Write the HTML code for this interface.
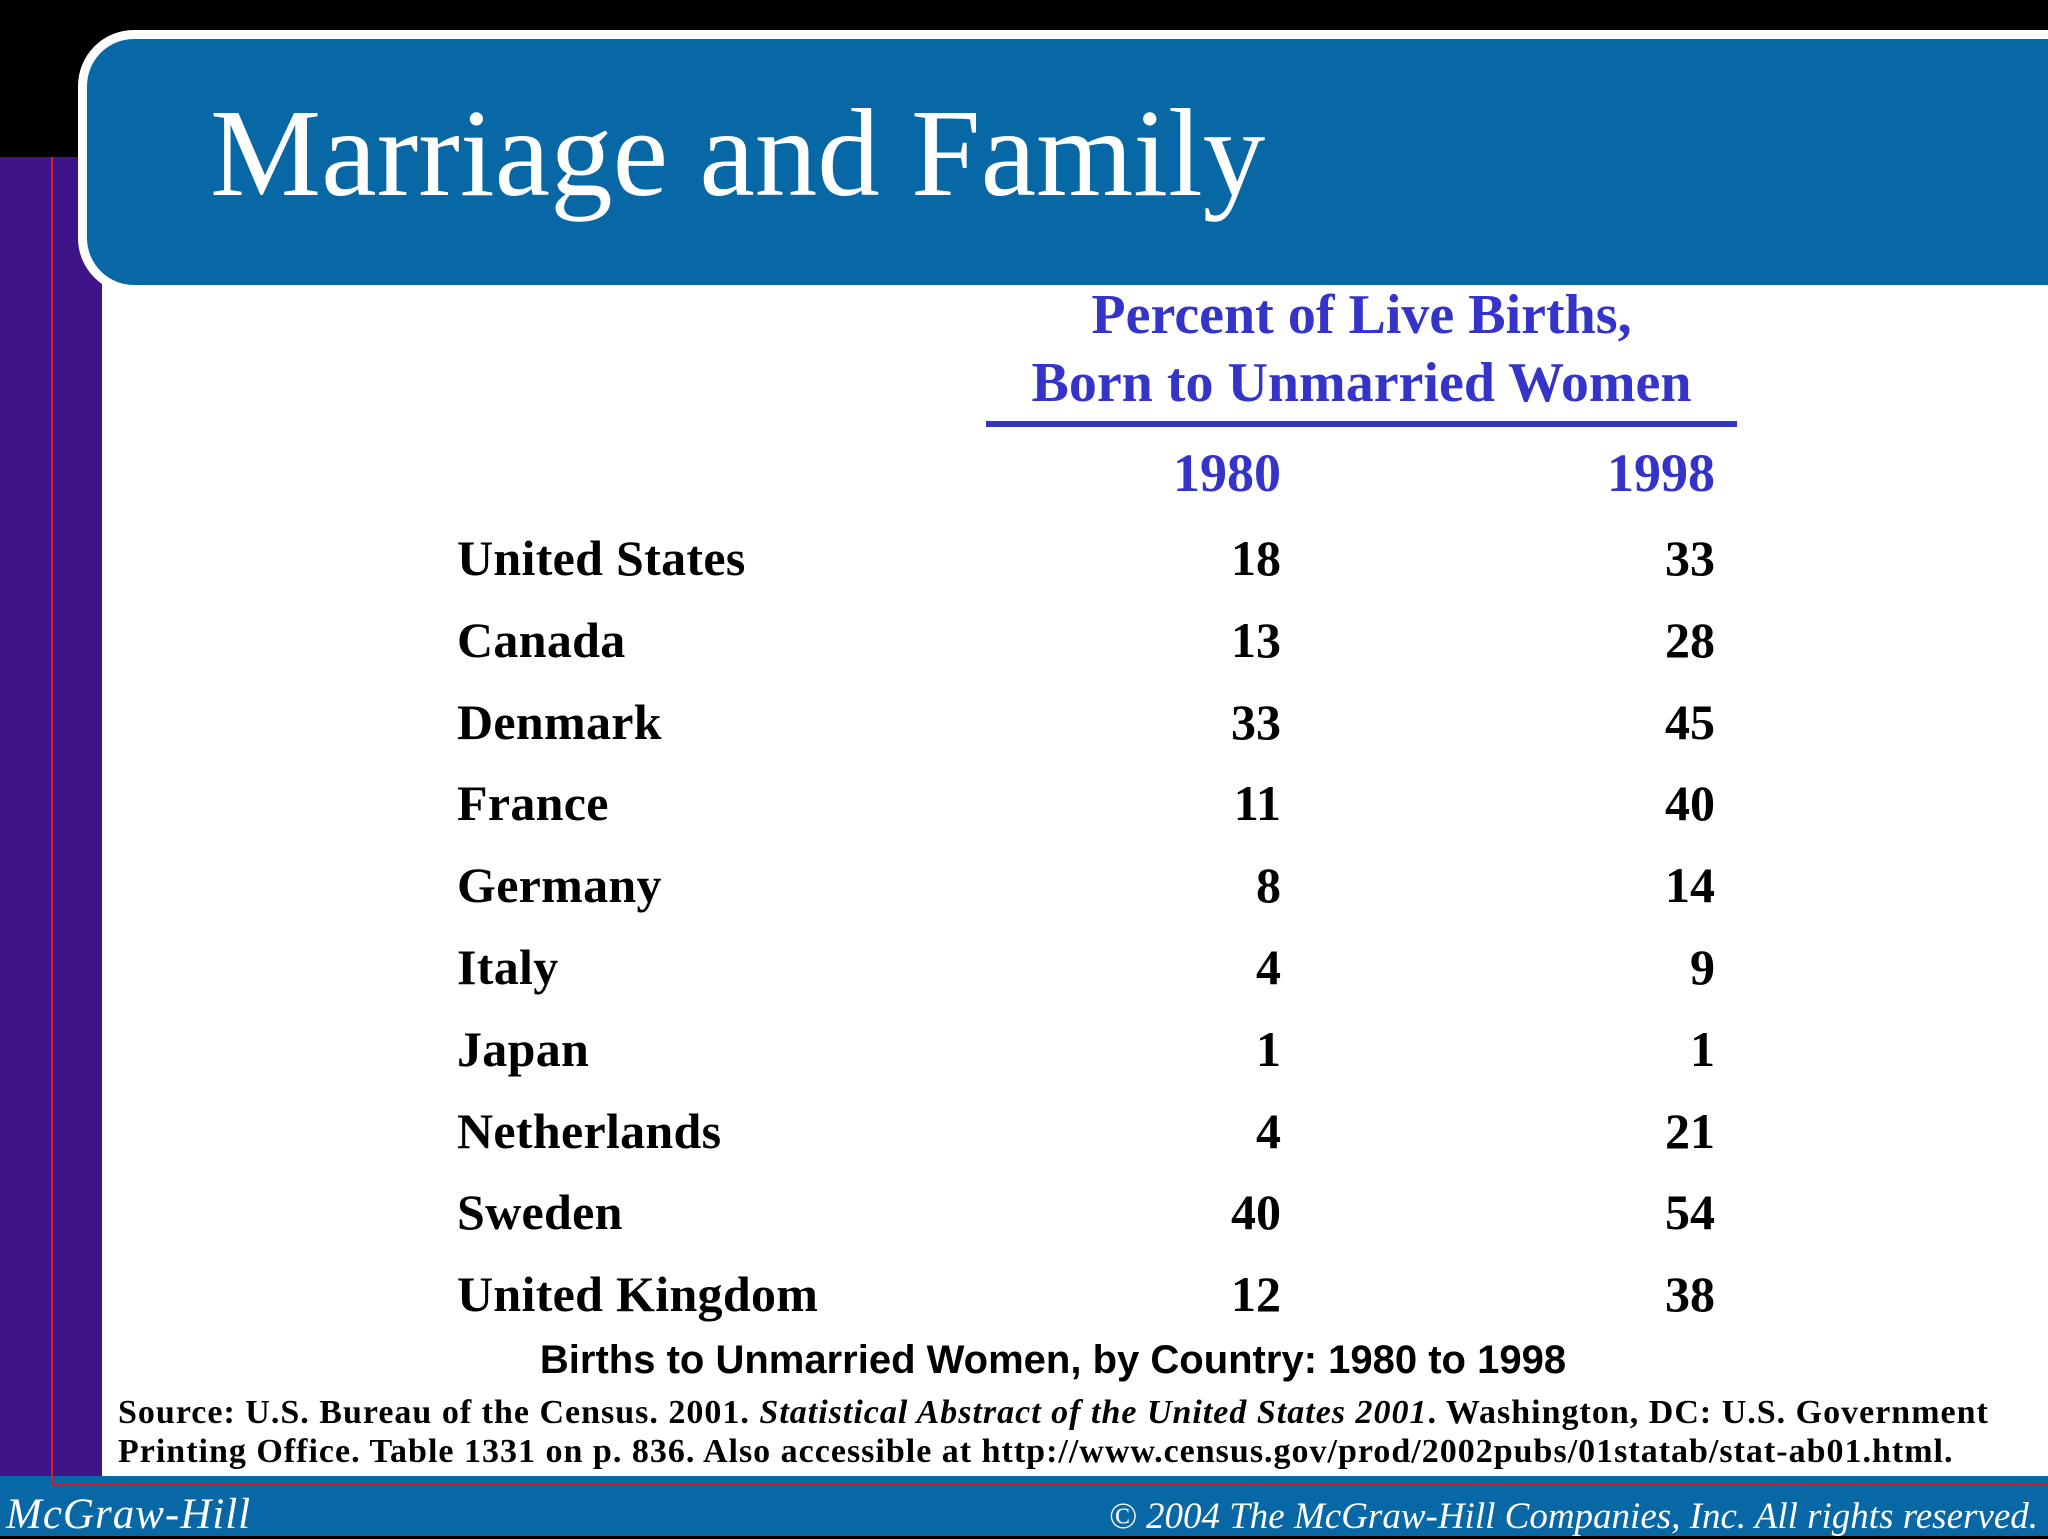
<!DOCTYPE html>
<html><head><meta charset="utf-8"><style>
body{margin:0;width:2048px;height:1536px;position:relative;overflow:hidden;background:#000;font-family:"Liberation Serif",serif}
div,span{position:absolute}
.c{left:457px;font-weight:bold;font-size:50px;color:#000;line-height:1;white-space:nowrap;letter-spacing:0.3px}
.n{font-weight:bold;font-size:50px;color:#000;text-align:right;width:200px;line-height:1}
</style></head><body>
<div style="left:0;top:157px;width:102px;height:1330px;background:#3e1488"></div>
<div style="left:102px;top:157px;width:1946px;height:1330px;background:#fff"></div>
<div style="left:0;top:1476px;width:2048px;height:60px;background:#0868a6"></div>
<div style="left:51px;top:157px;width:2000px;height:1327px;border-left:2px solid #d0202a;border-bottom:2px solid #d0202a"></div>
<div style="left:78px;top:30px;width:2050px;height:264px;background:#0868a6;border:9px solid #fff;border-radius:56px;box-sizing:border-box"></div>
<div style="left:210px;top:86px;font-size:125px;color:#fff;line-height:1.1;white-space:nowrap">Marriage and Family</div>
<div style="left:936px;top:281px;width:851px;text-align:center;font-weight:bold;font-size:56px;color:#3434c8;line-height:68px">Percent of Live Births,<br>Born to Unmarried Women</div>
<div style="left:986px;top:421px;width:751px;height:6px;background:#3434c8"></div>
<div class="n" style="left:1081px;top:446px;color:#3434c8;font-size:54px">1980</div>
<div class="n" style="left:1515px;top:446px;color:#3434c8;font-size:54px">1998</div>
<div id="rows"></div>
<div style="left:0;width:2106px;top:1338px;text-align:center;font-family:'Liberation Sans',sans-serif;font-weight:bold;font-size:40px;color:#000">Births to Unmarried Women, by Country: 1980 to 1998</div>
<div style="left:118px;top:1393px;font-weight:bold;font-size:34px;letter-spacing:1px;line-height:39px;color:#000;white-space:nowrap">Source: U.S. Bureau of the Census. 2001. <i>Statistical Abstract of the United States 2001</i>. Washington, DC: U.S. Government<br>Printing Office. Table 1331 on p. 836. Also accessible at http://www.census.gov/prod/2002pubs/01statab/stat-ab01.html.</div>
<div style="left:6px;top:1490px;font-style:italic;font-size:43px;letter-spacing:1px;color:#fff;white-space:nowrap">McGraw-Hill</div>
<div style="right:10px;top:1495px;font-style:italic;font-size:37px;color:#fff;white-space:nowrap">© 2004 The McGraw-Hill Companies, Inc. All rights reserved.</div>
<script>
const countries=["United States","Canada","Denmark","France","Germany","Italy","Japan","Netherlands","Sweden","United Kingdom"];
const v1980=[18,13,33,11,8,4,1,4,40,12];
const v1998=[33,28,45,40,14,9,1,21,54,38];
const R=document.getElementById('rows');
countries.forEach((c,i)=>{
  const y=558+i*81.8-25;
  const a=document.createElement('div');a.className='c';a.style.top=y+'px';a.textContent=c;
  
  
  R.appendChild(a);
  const b=document.createElement('div');b.className='n';b.style.left='1081px';b.style.top=y+'px';b.textContent=v1980[i];
  
  
  R.appendChild(b);
  const d=document.createElement('div');d.className='n';d.style.left='1515px';d.style.top=y+'px';d.textContent=v1998[i];
  
  
  R.appendChild(d);
});
</script>
</body></html>
